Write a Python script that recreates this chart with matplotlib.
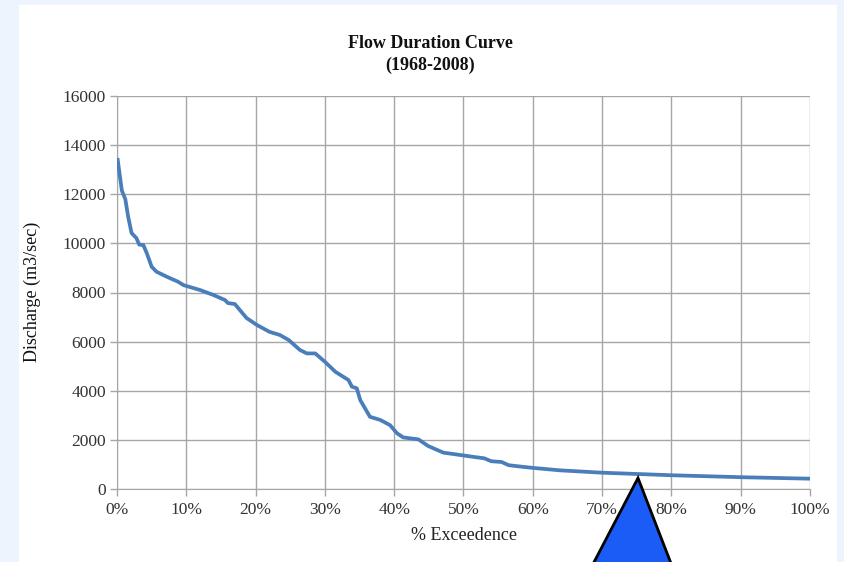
import matplotlib.pyplot as plt
from matplotlib.patches import Polygon, Rectangle
from matplotlib.ticker import FuncFormatter

# --- données ---
exceedence_pct = [0.1, 0.7, 1.2, 1.6, 2.1, 2.8, 3.2, 3.8, 4.3, 5.0, 5.7, 7.2, 8.8, 9.6,
                  12.0, 13.9, 15.6, 16.0, 17.0, 18.7, 20.2, 22.0, 23.5, 24.8, 26.4, 27.4,
                  28.6, 30.0, 31.5, 33.4, 33.9, 34.6, 35.1, 36.5, 38.0, 39.4, 40.4, 41.3,
                  43.5, 44.9, 47.1, 49.5, 51.9, 53.0, 54.0, 55.5, 56.5, 58.0, 60.0, 63.9,
                  69.9, 75.2, 80.0, 90.1, 100.0]
discharge = [13400, 12150, 11800, 11100, 10420, 10215, 9950, 9930, 9600, 9050, 8845, 8640,
             8440, 8300, 8100, 7900, 7690, 7570, 7530, 6960, 6675, 6400, 6270, 6060, 5660,
             5520, 5520, 5180, 4775, 4436, 4165, 4100, 3620, 2940, 2810, 2600, 2270, 2100,
             2020, 1750, 1480, 1385, 1290, 1250, 1130, 1100, 970, 920, 860, 760,
             665, 610, 560, 480, 420]

y_ticks = list(range(0, 16001, 2000))
x_ticks = list(range(0, 101, 10))

serif = "Liberation Serif"
plt.rcParams['font.family'] = serif

fig = plt.figure(figsize=(8.45, 5.62), dpi=100)
fig.patch.set_facecolor("#eef4fd")
# panneau blanc
fig.patches.append(Rectangle((19 / 845, 0), (837 - 19) / 845, 1 - 5 / 562,
                             transform=fig.transFigure, facecolor="white",
                             edgecolor="none", zorder=0))

ax = fig.add_axes([117 / 845, 73 / 562, 693 / 845, 393 / 562])
ax.set_zorder(1)
ax.set_facecolor("white")

ax.plot(exceedence_pct, discharge, color="#4a7ebb", linewidth=2.7,
        solid_joinstyle="round", zorder=3)

ax.set_xlim(0, 100)
ax.set_ylim(0, 16000)
ax.set_xticks(x_ticks)
ax.set_yticks(y_ticks)
ax.xaxis.set_major_formatter(FuncFormatter(lambda v, p: f"{int(v)}%"))
ax.grid(True, color="#a6a6a6", linewidth=1.0)
ax.set_axisbelow(True)
for s in ["top", "right"]:
    ax.spines[s].set_visible(False)
for s in ["left", "bottom"]:
    ax.spines[s].set_color("#a6a6a6")
ax.tick_params(axis="both", colors="#a6a6a6", length=5, width=1.0,
               labelcolor="#333333", labelsize=12.5)
ax.tick_params(axis="x", pad=4)
ax.tick_params(axis="y", pad=3)

fig.text(430 / 845, 1 - 43 / 562, "Flow Duration Curve", ha="center", va="center",
         fontsize=13, fontweight="bold", color="#111111")
fig.text(430 / 845, 1 - 65 / 562, "(1968-2008)", ha="center", va="center",
         fontsize=13, fontweight="bold", color="#111111")
fig.text(464 / 845, 1 - 536 / 562, "% Exceedence", ha="center", va="center",
         fontsize=13, color="#222222")
fig.text(32 / 845, 1 - 292 / 562, "Discharge (m3/sec)", ha="center", va="center",
         rotation=90, fontsize=13, color="#111111")

# flèche triangulaire
tri = Polygon([(638 / 845, 1 - 478 / 562), (592 / 845, 1 - 566 / 562),
               (672 / 845, 1 - 566 / 562)], closed=True, transform=fig.transFigure,
              facecolor="#1a5cf5", edgecolor="black", linewidth=2.0, zorder=10,
              clip_on=False)
fig.patches.append(tri)

fig.savefig("out.png", dpi=100, facecolor=fig.get_facecolor())
